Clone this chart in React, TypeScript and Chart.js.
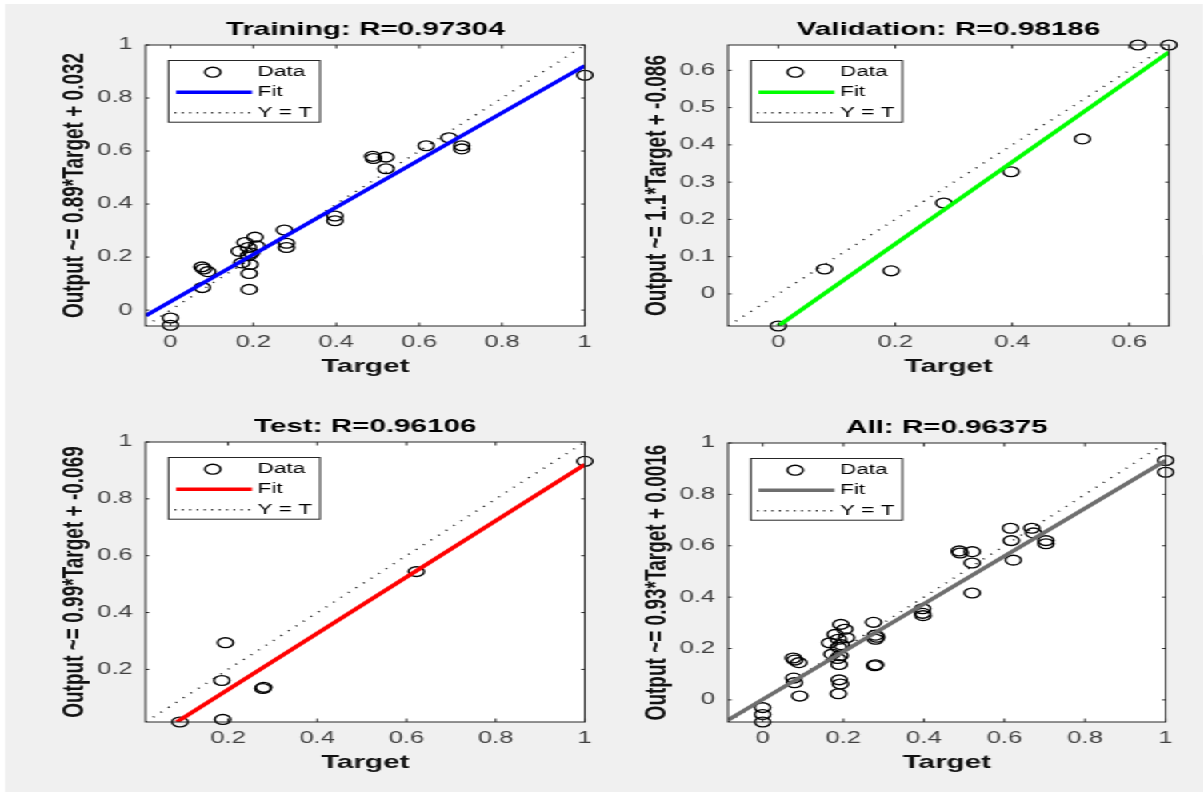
import React, { useEffect, useRef } from "react";
import { Chart, registerables } from "chart.js";

Chart.register(...registerables);

// horizontal stretch of the original figure
const S = 1.6;
const FONT = "'Liberation Sans', Arial, Helvetica, sans-serif";

// ---------- data ----------
const trainTarget = [0, 0, 0.076, 0.08, 0.09, 0.077, 0.166, 0.18, 0.204, 0.188, 0.208, 0.172, 0.192, 0.188, 0.195, 0.19, 0.19, 0.275, 0.28, 0.28, 0.397, 0.397, 0.488, 0.49, 0.52, 0.52, 0.617, 0.672, 0.703, 0.703, 1.0];
const trainOutput = [-0.03, -0.057, 0.163, 0.155, 0.145, 0.085, 0.222, 0.255, 0.275, 0.236, 0.242, 0.178, 0.172, 0.205, 0.215, 0.138, 0.078, 0.302, 0.252, 0.236, 0.355, 0.337, 0.58, 0.572, 0.577, 0.533, 0.62, 0.65, 0.62, 0.608, 0.886];

const valTarget = [0, 0.079, 0.193, 0.283, 0.398, 0.52, 0.615, 0.668];
const valOutput = [-0.086, 0.067, 0.062, 0.244, 0.328, 0.416, 0.668, 0.668];

const testTarget = [0.092, 0.188, 0.186, 0.194, 0.278, 0.28, 0.622, 1.0];
const testOutput = [0.015, 0.024, 0.161, 0.294, 0.133, 0.137, 0.544, 0.932];

const allTarget = [...trainTarget, ...valTarget, ...testTarget];
const allOutput = [...trainOutput, ...valOutput, ...testOutput];

// fit line end points (target, output)
const trainFitT = [-0.06, 1];
const trainFitO = [-0.0214, 0.922];
const valFitT = [0, 0.668];
const valFitO = [-0.086, 0.649];
const testFitT = [0.085, 1];
const testFitO = [0.015, 0.921];
const allFitT = [-0.086, 1];
const allFitO = [-0.0784, 0.9316];

// axis limits
const trainLim = [-0.06, 1];
const valLim = [-0.086, 0.668];
const testLim = [0.015, 1];
const allLim = [-0.086, 1];

// tick values
const ticks01 = [0, 0.2, 0.4, 0.6, 0.8, 1];
const valXTicks = [0, 0.2, 0.4, 0.6];
const valYTicks = [0, 0.1, 0.2, 0.3, 0.4, 0.5, 0.6];
const testTicks = [0.2, 0.4, 0.6, 0.8, 1];

const titles = ["Training: R=0.97304", "Validation: R=0.98186", "Test: R=0.96106", "All: R=0.96375"];
const yLabels = [
  "Output ~= 0.89*Target + 0.032",
  "Output ~= 1.1*Target + -0.086",
  "Output ~= 0.99*Target + -0.069",
  "Output ~= 0.93*Target + 0.0016",
];
const legendLabels = ["Data", "Fit", "Y = T"];

type Spec = {
  title: string;
  ylabel: string;
  target: number[];
  output: number[];
  fitT: number[];
  fitO: number[];
  lim: number[];
  xTicks: number[];
  yTicks: number[];
  color: string;
  box: number[]; // L,T,R,B in page pixels
};

const specs: Spec[] = [
  { title: titles[0], ylabel: yLabels[0], target: trainTarget, output: trainOutput, fitT: trainFitT, fitO: trainFitO, lim: trainLim, xTicks: ticks01, yTicks: ticks01, color: "#0000ff", box: [145, 45, 587, 326] },
  { title: titles[1], ylabel: yLabels[1], target: valTarget, output: valOutput, fitT: valFitT, fitO: valFitO, lim: valLim, xTicks: valXTicks, yTicks: valYTicks, color: "#00ff00", box: [728, 45, 1169, 326] },
  { title: titles[2], ylabel: yLabels[2], target: testTarget, output: testOutput, fitT: testFitT, fitO: testFitO, lim: testLim, xTicks: testTicks, yTicks: testTicks, color: "#ff0000", box: [145, 442, 587, 722] },
  { title: titles[3], ylabel: yLabels[3], target: allTarget, output: allOutput, fitT: allFitT, fitO: allFitO, lim: allLim, xTicks: ticks01, yTicks: ticks01, color: "#6e6e6e", box: [728, 443, 1168, 722] },
];

// layout constants (unstretched px)
const YW = 56; // y axis box width
const XH = 52; // x axis box height
const TITLE_SIZE = 18.5;
const TITLE_PAD = 4;
const TITLE_BLOCK = TITLE_SIZE * 1.2 + TITLE_PAD;
const YLABEL_SIZE = 19;
const TICK_SIZE = 16;
const TICK_COLOR = "#404040";
const MARKER_R = 4.9;
const MARKER_W = 1.35;
const FIT_W = 3.4;

const fmt = (v: number) => String(Math.round(v * 100) / 100);

const matlabAxes = {
  id: "matlabAxes",
  beforeDatasetsDraw(chart: any) {
    const { ctx, chartArea: a } = chart;
    ctx.save();
    ctx.fillStyle = "#ffffff";
    ctx.fillRect(a.left, a.top, a.right - a.left, a.bottom - a.top);
    ctx.restore();
  },
  afterDatasetsDraw(chart: any, _args: any, opts: any) {
    const { ctx, chartArea: a, scales } = chart;
    ctx.save();
    // box
    ctx.strokeStyle = "#262626";
    ctx.lineWidth = 1;
    ctx.setLineDash([]);
    ctx.strokeRect(a.left, a.top, a.right - a.left, a.bottom - a.top);
    // inward ticks on all sides
    ctx.beginPath();
    for (const t of scales.x.ticks) {
      const px = scales.x.getPixelForValue(t.value);
      ctx.moveTo(px, a.bottom);
      ctx.lineTo(px, a.bottom - 3.5);
      ctx.moveTo(px, a.top);
      ctx.lineTo(px, a.top + 3.5);
    }
    for (const t of scales.y.ticks) {
      const py = scales.y.getPixelForValue(t.value);
      ctx.moveTo(a.left, py);
      ctx.lineTo(a.left + 2.3, py);
      ctx.moveTo(a.right, py);
      ctx.lineTo(a.right - 2.3, py);
    }
    ctx.stroke();

    // legend
    const lx = a.left + 14.3;
    const ly = a.top + 15.5;
    const lw = 94.7;
    const lh = 61.7;
    ctx.fillStyle = "#ffffff";
    ctx.fillRect(lx, ly, lw, lh);
    ctx.strokeStyle = "#262626";
    ctx.lineWidth = 1;
    ctx.strokeRect(lx, ly, lw, lh);

    const rows = [ly + 11.7, ly + 31.7, ly + 52.3];
    // Data marker
    ctx.beginPath();
    ctx.lineWidth = MARKER_W;
    ctx.strokeStyle = "#000";
    ctx.arc(lx + 27.7, rows[0], MARKER_R, 0, Math.PI * 2);
    ctx.stroke();
    // Fit line
    ctx.beginPath();
    ctx.lineWidth = FIT_W;
    ctx.strokeStyle = opts.color;
    ctx.moveTo(lx + 4.8, rows[1]);
    ctx.lineTo(lx + 52.2, rows[1]);
    ctx.stroke();
    // Y = T dotted
    ctx.beginPath();
    ctx.lineWidth = 1.4;
    ctx.strokeStyle = "#1a1a1a";
    ctx.setLineDash([1.1, 3.5]);
    ctx.moveTo(lx + 3.8, rows[2]);
    ctx.lineTo(lx + 53.3, rows[2]);
    ctx.stroke();
    ctx.setLineDash([]);

    ctx.fillStyle = "#000";
    ctx.font = `14px ${FONT}`;
    ctx.textAlign = "left";
    ctx.textBaseline = "middle";
    legendLabels.forEach((lab, i) => ctx.fillText(lab, lx + 55.8, rows[i]));
    ctx.restore();
  },
};

function buildConfig(spec: Spec, cw: number, ch: number, cx: number, cy: number): any {
  const [L, T, R, B] = spec.box;
  const padding = {
    left: L / S - cx - YW,
    top: T - cy - TITLE_BLOCK,
    right: cw - (R / S - cx),
    bottom: ch - (B - cy) - XH,
  };
  const points = spec.target.map((t, i) => ({ x: t, y: spec.output[i] }));
  const fit = spec.fitT.map((t, i) => ({ x: t, y: spec.fitO[i] }));
  const ident = spec.lim.map((v) => ({ x: v, y: v }));
  const tickFont = { family: FONT, size: TICK_SIZE };
  const labelFont = { family: FONT, size: TITLE_SIZE, weight: "bold" };
  const yLabelFont = { family: FONT, size: YLABEL_SIZE, weight: "bold" };
  return {
    type: "scatter",
    data: {
      datasets: [
        {
          label: "Fit",
          data: fit,
          showLine: true,
          borderColor: spec.color,
          borderWidth: FIT_W,
          pointRadius: 0,
          clip: 0,
          order: 0,
        },
        {
          label: "Data",
          data: points,
          showLine: false,
          pointStyle: "circle",
          pointRadius: MARKER_R,
          pointBorderWidth: MARKER_W,
          pointBorderColor: "#000",
          pointBackgroundColor: "rgba(0,0,0,0)",
          clip: false,
          order: 1,
        },
        {
          label: "Y = T",
          data: ident,
          showLine: true,
          borderColor: "#1a1a1a",
          borderWidth: 1.4,
          borderDash: [1.1, 5.6],
          pointRadius: 0,
          clip: 0,
          order: 2,
        },
      ],
    },
    options: {
      responsive: false,
      maintainAspectRatio: false,
      animation: false,
      devicePixelRatio: 1,
      events: [],
      layout: { padding },
      plugins: {
        legend: { display: false },
        tooltip: { enabled: false },
        title: {
          display: true,
          text: spec.title,
          fullSize: false,
          color: "#000",
          font: labelFont,
          padding: { top: 0, bottom: TITLE_PAD },
        },
        matlabAxes: { color: spec.color },
      },
      scales: {
        x: {
          type: "linear",
          position: "bottom",
          min: spec.lim[0],
          max: spec.lim[1],
          afterBuildTicks: (ax: any) => {
            ax.ticks = spec.xTicks.map((v) => ({ value: v }));
          },
          afterFit: (ax: any) => {
            ax.height = XH;
          },
          grid: { display: false, drawTicks: false },
          border: { display: false },
          ticks: { font: tickFont, color: TICK_COLOR, padding: 7, autoSkip: false, maxRotation: 0, callback: fmt },
          title: { display: true, text: "Target", color: "#111", font: labelFont, padding: 0 },
        },
        y: {
          type: "linear",
          position: "left",
          min: spec.lim[0],
          max: spec.lim[1],
          afterBuildTicks: (ax: any) => {
            ax.ticks = spec.yTicks.map((v) => ({ value: v }));
          },
          afterFit: (ax: any) => {
            ax.width = YW;
          },
          grid: { display: false, drawTicks: false },
          border: { display: false },
          ticks: { font: tickFont, color: TICK_COLOR, padding: 8, autoSkip: false, callback: fmt },
          title: { display: true, text: spec.ylabel, color: "#111", font: yLabelFont, padding: 0 },
        },
      },
    },
    plugins: [matlabAxes],
  };
}

function Panel({ spec }: { spec: Spec }) {
  const ref = useRef<HTMLCanvasElement | null>(null);
  const [L, T, R, B] = spec.box;
  const cx = L / S - 90;
  const cy = T - 45;
  const cw = Math.round(R / S - cx + 10);
  const ch = Math.round(B - cy + 70);
  useEffect(() => {
    if (!ref.current) return;
    const chart = new Chart(ref.current, buildConfig(spec, cw, ch, cx, cy));
    return () => chart.destroy();
  }, []);
  return (
    <canvas
      ref={ref}
      width={cw}
      height={ch}
      style={{ position: "absolute", left: cx, top: cy, width: cw, height: ch }}
    />
  );
}

export default function App() {
  return (
    <div style={{ position: "fixed", left: 0, top: 0, width: 1203, height: 792, background: "#ffffff", overflow: "hidden" }}>
      <div
        style={{
          position: "absolute",
          left: 0,
          top: 0,
          width: 1203 / S,
          height: 792,
          transform: `scaleX(${S})`,
          transformOrigin: "0 0",
        }}
      >
        <div style={{ position: "absolute", left: 5 / S, top: 4, right: 0, bottom: 0, background: "#f0f0f0" }} />
        {specs.map((s, i) => (
          <Panel key={i} spec={s} />
        ))}
      </div>
    </div>
  );
}
